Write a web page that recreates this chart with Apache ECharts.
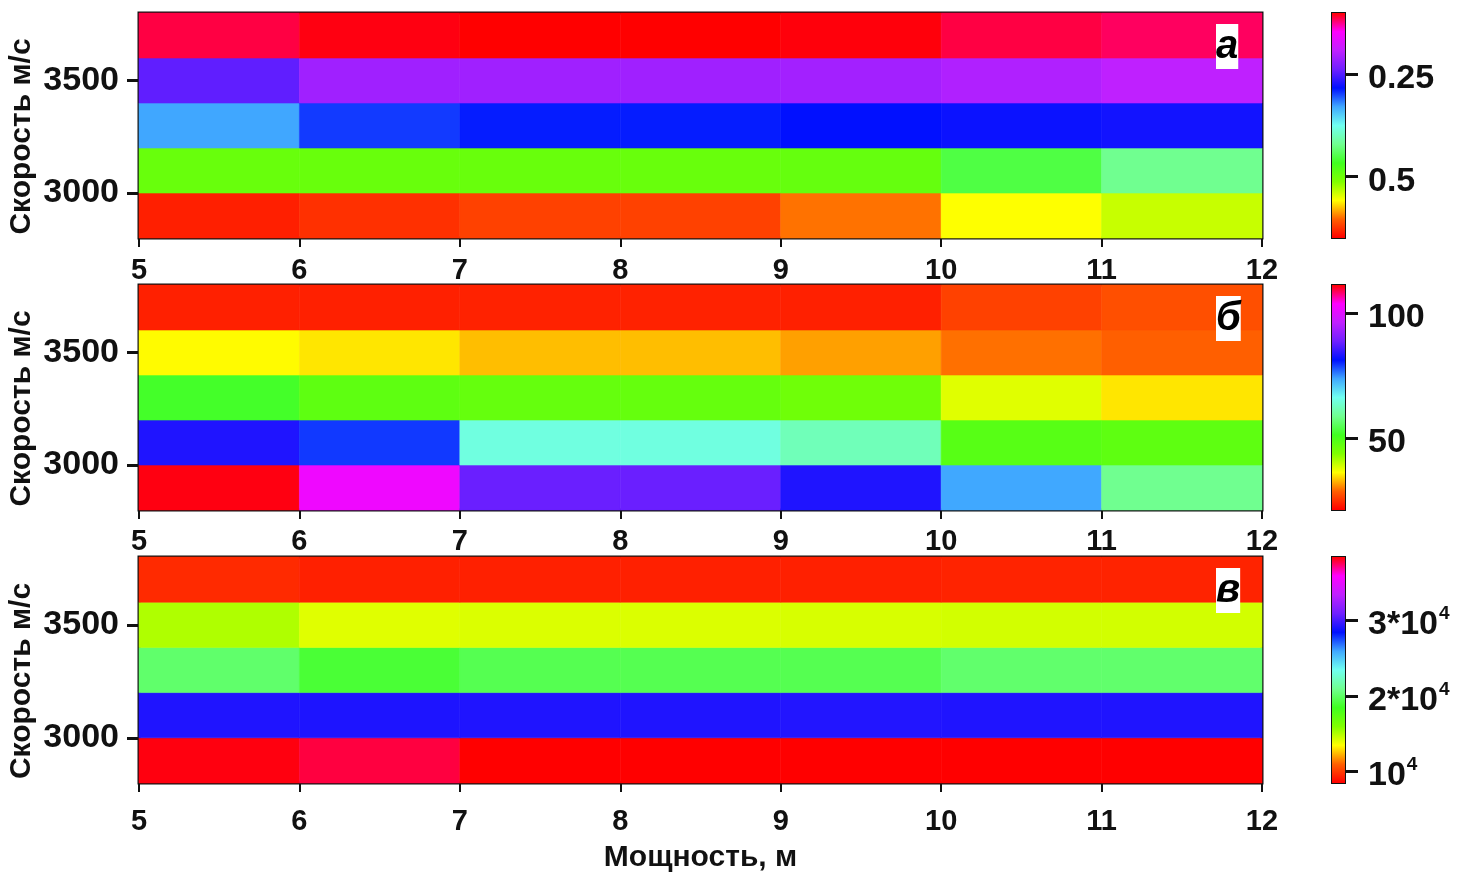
<!DOCTYPE html>
<html>
<head>
<meta charset="utf-8">
<script src="https://cdn.jsdelivr.net/npm/echarts@6/dist/echarts.min.js"></script>
<style>
  html, body { margin: 0; padding: 0; background: #fff; }
  #chart { width: 1466px; height: 878px; }
</style>
</head>
<body>
<div id="chart"></div>
<script>
// Cell edges: layer thickness (m) and velocity (m/s)
const X_EDGES = [5, 6, 7, 8, 9, 10, 11, 12];
const V_EDGES = [2800, 3000, 3200, 3400, 3600, 3800];

// Values per velocity row (2900, 3100, 3300, 3500, 3700), one per thickness bin
const valuesA = [
  [0.635, 0.627, 0.619, 0.619, 0.599, 0.558, 0.538],
  [0.495, 0.495, 0.495, 0.495, 0.493, 0.452, 0.421],
  [0.329, 0.296, 0.287, 0.287, 0.283, 0.279, 0.276],
  [0.244, 0.210, 0.210, 0.210, 0.208, 0.201, 0.192],
  [0.112, 0.103, 0.100, 0.100, 0.102, 0.112, 0.117]
];
const valuesB = [
  [111.0, 102.1, 88.5, 88.5, 83.4, 73.8, 58.7],
  [83.4, 79.3, 65.0, 65.0, 61.9, 48.5, 47.6],
  [51.8, 47.6, 46.8, 46.8, 45.6, 37.9, 34.9],
  [35.9, 34.9, 33.0, 33.0, 31.6, 29.3, 28.5],
  [23.5, 23.5, 23.7, 23.7, 23.5, 26.1, 27.2]
];
const valuesC = [
  [38250, 37770, 38400, 38400, 38400, 38400, 38400],
  [29120, 29060, 29120, 29120, 29180, 29120, 29120],
  [20110, 18940, 19540, 19540, 19540, 20140, 20140],
  [15020, 14060, 14150, 14150, 14240, 14330, 14330],
  [9540, 9300, 9300, 9300, 9300, 9360, 9360]
];

// Colour scale ranges and tick values
const RANGE_A = [0.10, 0.65];
const RANGE_B = [21, 111.5];
const RANGE_C = [8460, 38400];
const TICKS_A = [0.25, 0.5];
const TICKS_B = [50, 100];
const TICKS_C = [10000, 20000, 30000];
const V_TICKS = [3000, 3500];
const PANEL_LETTERS = ['а', 'б', 'в'];

// Hue-wheel palette, low end (red) to high end (red)
const CMAP = ['#ff0000', '#ff6000', '#ffff00', '#80ff00', '#40ff20', '#70ff90',
  '#70fff0', '#40a8ff', '#0010ff', '#7020ff', '#c020ff', '#ff00ff', '#ff0000'];

const FONT = 'Liberation Sans, Arial, sans-serif';
const INK = '#111';

function toCells(values) {
  const out = [];
  values.forEach((row, j) => row.forEach((v, i) => {
    out.push([X_EDGES[i], X_EDGES[i + 1], V_EDGES[j], V_EDGES[j + 1], v]);
  }));
  return out;
}

function renderCell(params, api) {
  const p0 = api.coord([api.value(0), api.value(3)]);
  const p1 = api.coord([api.value(1), api.value(2)]);
  const c = api.visual('color');
  return {
    type: 'rect',
    shape: { x: p0[0], y: p0[1], width: p1[0] - p0[0], height: p1[1] - p0[1] },
    style: { fill: c, stroke: c, lineWidth: 0.6 }
  };
}

function renderBar(params, api) {
  const a = api.coord([0, api.value(0)]);
  const b = api.coord([1, api.value(1)]);
  const top = Math.min(a[1], b[1]);
  const bottom = Math.max(a[1], b[1]);
  return {
    type: 'rect',
    shape: { x: a[0], y: top, width: b[0] - a[0], height: bottom - top },
    style: {
      fill: new echarts.graphic.LinearGradient(0, 1, 0, 0,
        CMAP.map((c, k) => ({ offset: k / (CMAP.length - 1), color: c })))
    }
  };
}

const panels = [
  { top: 13, height: 225, values: valuesA, range: RANGE_A, ticks: TICKS_A, inverse: true, xMargin: 18 },
  { top: 285, height: 225, values: valuesB, range: RANGE_B, ticks: TICKS_B, inverse: false, xMargin: 17 },
  { top: 557, height: 226, values: valuesC, range: RANGE_C, ticks: TICKS_C, inverse: false, xMargin: 24 }
];

const supLabels = { 10000: '{m|10}{s|4}', 20000: '{m|2*10}{s|4}', 30000: '{m|3*10}{s|4}' };

const grid = [], xAxis = [], yAxis = [], series = [], visualMap = [], graphic = [];

panels.forEach((p, k) => {
  // heatmap panel
  grid.push({ left: 139, top: p.top, width: 1123, height: p.height,
    containLabel: false, outerBoundsMode: 'none',
    show: true, borderColor: INK, borderWidth: 3, backgroundColor: 'transparent' });
  xAxis.push({
    gridIndex: 2 * k, type: 'value', min: 5, max: 12, interval: 1,
    axisLine: { show: false }, splitLine: { show: false },
    axisTick: { show: true, inside: false, length: 9, lineStyle: { color: INK, width: 2 } },
    axisLabel: { margin: p.xMargin, color: INK, fontSize: 29, fontWeight: 'bold', fontFamily: FONT },
    name: k === 2 ? 'Мощность, м' : '', nameLocation: 'middle', nameGap: 60, nameMoveOverlap: false,
    nameTextStyle: { color: INK, fontSize: 30, fontWeight: 'bold', fontFamily: FONT }
  });
  yAxis.push({
    gridIndex: 2 * k, type: 'value', min: 2800, max: 3800,
    axisLine: { show: false }, splitLine: { show: false },
    axisTick: { show: true, length: 12, customValues: V_TICKS, lineStyle: { color: INK, width: 3 } },
    axisLabel: { customValues: V_TICKS, margin: 20, color: INK, fontSize: 34, fontWeight: 'bold',
      fontFamily: FONT, padding: [8, 0, 0, 0], formatter: v => String(v) },
    name: 'Скорость м/с', nameLocation: 'middle', nameRotate: 90, nameGap: 102, nameMoveOverlap: false,
    nameTextStyle: { color: INK, fontSize: 30, fontWeight: 'bold', fontFamily: FONT, padding: [0, 22, 0, 0] }
  });
  series.push({
    type: 'custom', coordinateSystem: 'cartesian2d',
    xAxisIndex: 2 * k, yAxisIndex: 2 * k,
    encode: { x: [0, 1], y: [2, 3] },
    renderItem: renderCell, data: toCells(p.values), silent: true
  });
  visualMap.push({
    type: 'continuous', show: false, seriesIndex: 2 * k, dimension: 4,
    min: p.range[0], max: p.range[1],
    inRange: { color: p.inverse ? CMAP.slice().reverse() : CMAP.slice() }
  });

  // colour bar
  grid.push({ left: 1332, top: p.top, width: 13, height: p.height,
    containLabel: false, outerBoundsMode: 'none',
    show: true, borderColor: INK, borderWidth: 2, backgroundColor: 'transparent' });
  xAxis.push({ gridIndex: 2 * k + 1, type: 'value', min: 0, max: 1, show: false });
  yAxis.push({
    gridIndex: 2 * k + 1, type: 'value', position: 'right',
    min: p.range[0], max: p.range[1], inverse: p.inverse,
    axisLine: { show: true, onZero: false, lineStyle: { color: INK, width: 2 } },
    splitLine: { show: false },
    axisTick: { show: true, inside: false, length: 13, customValues: p.ticks, lineStyle: { color: INK, width: 3 } },
    axisLabel: {
      customValues: p.ticks, margin: 23, color: INK, fontSize: 34, fontWeight: 'bold', fontFamily: FONT,
      padding: [9, 0, 0, 0],
      formatter: k === 2 ? (v => supLabels[v]) : (v => String(v)),
      rich: {
        m: { fontSize: 34, fontWeight: 'bold', fontFamily: FONT, color: INK },
        s: { fontSize: 19, fontWeight: 'bold', fontFamily: FONT, color: INK, padding: [0, 0, 22, 1] }
      }
    }
  });
  series.push({
    type: 'custom', coordinateSystem: 'cartesian2d',
    xAxisIndex: 2 * k + 1, yAxisIndex: 2 * k + 1,
    encode: { y: [0, 1] },
    renderItem: renderBar, data: [[p.range[0], p.range[1]]], silent: true
  });

  // panel letter
  graphic.push({
    type: 'text', left: 1216, top: p.top + 11, z: 100,
    style: {
      text: PANEL_LETTERS[k], fill: '#000', fontSize: 40, fontWeight: 'bold', fontStyle: 'italic',
      fontFamily: FONT, backgroundColor: '#fff', padding: [2, 0, 2, 0], lineHeight: 41
    }
  });
});

const chart = echarts.init(document.getElementById('chart'), null, { renderer: 'canvas' });
chart.setOption({
  backgroundColor: '#fff',
  animation: false,
  grid, xAxis, yAxis, series, visualMap, graphic
});
</script>
</body>
</html>
